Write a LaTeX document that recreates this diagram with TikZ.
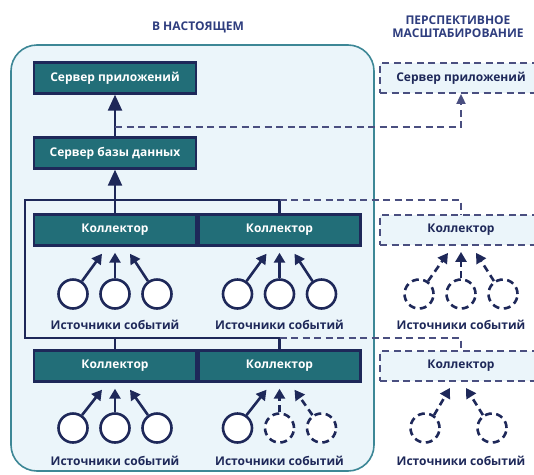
\documentclass[tikz,border=0pt]{standalone}
\usepackage{fontspec}
\setmainfont{Open Sans}
\usetikzlibrary{positioning, arrows.meta}
\definecolor{dsteal}{HTML}{226E78}
\definecolor{dsnavy}{HTML}{1E2859}
\definecolor{dsback}{HTML}{EBF5FA}
\definecolor{dsframe}{HTML}{3D8796}
\definecolor{dsdash}{HTML}{4A4F80}
\definecolor{dstitle}{HTML}{2E3D7E}

\begin{document}
\begin{tikzpicture}[x=1pt, y=-1pt, font=\bfseries\fontsize{12}{14}\selectfont,
    srvbox/.style={draw=dsnavy, fill=dsteal, line width=2.4pt, text=white,
                   minimum width=162pt, minimum height=31pt, inner sep=0pt},
    futbox/.style={draw=dsdash, fill=dsback, line width=1.8pt, dashline, text=dsnavy,
                   minimum width=162pt, minimum height=30pt, inner sep=0pt},
    solidline/.style={solid},
    dashline/.style={dash pattern=on 7pt off 4.5pt},
    evt/.style={circle, draw=dsnavy, fill=white, line width=2.6pt,
                minimum size=29pt, inner sep=0pt, #1},
    flow/.style={draw=dsnavy, line width=2.6pt, -{Triangle[length=10pt, width=11pt]}, #1},
    bus/.style={draw=dsnavy, line width=2.4pt},
    mainflow/.style={bus, -{Triangle[length=16pt, width=14pt]}},
    futline/.style={draw=dsdash, line width=1.8pt, dashline},
    srclabel/.style={text=dsnavy},
    title/.style={text=dstitle, align=center}]

  \clip (0,0) rectangle (534,474);

  % frame of the current setup
  \draw[draw=dsframe, fill=dsback, line width=1.6pt, rounded corners=26pt]
        (11,45) rectangle (374,471);

  \node[title] (now) at (198,27) {В НАСТОЯЩЕМ};
  \node[title] (later) at (458,27) {ПЕРСПЕКТИВНОЕ\\[-1pt]МАСШТАБИРОВАНИЕ};

  \node[srvbox] (app) at (115,78) {Сервер приложений};
  \node[srvbox] (db) at (115,153) {Сервер базы данных};
  \node[srvbox] (colA) at (115,230) {Коллектор};
  \node[srvbox] (colB) at (279.5,230) {Коллектор};
  \node[srvbox] (colC) at (115,366) {Коллектор};
  \node[srvbox] (colD) at (279.5,366) {Коллектор};

  \node[futbox] (appX) at (461,78) {Сервер приложений};
  \node[futbox] (colX) at (461,230) {Коллектор};
  \node[futbox] (colY) at (461,366) {Коллектор};

  \coordinate (busT) at (25,200);
  \coordinate (busB) at (25,338);
  \coordinate (tap) at (115,127);

  \draw[bus] (colB.north) |- (busT) -- (busB) -| (colD.north);
  \draw[bus] (busB -| colC.north) -- (colC.north);
  \draw[mainflow] (colA.north) -- (db.south);
  \draw[mainflow] (db.north) -- (app.south);

  \draw[futline] (colB.north |- busT) -| (colX.north);
  \draw[futline] (colD.north |- busB) -| (colY.north);
  \draw[futline, -{Triangle[length=10pt, width=9pt]}] (tap) -| (appX.south);

  % event sources under each collector
  \foreach \g/\r/\c/\p/\q/\s in {115/294/colA/solidline/solidline/solidline,
      279.5/294/colB/solidline/solidline/solidline,
      461/294/colX/dashline/dashline/dashline,
      115/428/colC/solidline/solidline/solidline,
      279.5/428/colD/solidline/dashline/dashline}{
    \node[evt=\p] (\c-l) at (\g-42,\r) {};
    \node[evt=\q] (\c-m) at (\g,\r) {};
    \node[evt=\s] (\c-r) at (\g+42,\r) {};
    \draw[flow=\p] (\c-l.55) -- ([xshift=-13pt, yshift=-7pt]\c.south);
    \draw[flow=\q] (\c-m.north) -- ([yshift=-6pt]\c.south);
    \draw[flow=\s] (\c-r.125) -- ([xshift=15pt, yshift=-7pt]\c.south);
  }
  \node[evt=dashline] (colY-l) at (425,428) {};
  \node[evt=dashline] (colY-r) at (492,428) {};
  \draw[flow=dashline] (colY-l.55) -- ([xshift=-11pt, yshift=-6pt]colY.south);
  \draw[flow=dashline] (colY-r.125) -- ([xshift=5pt, yshift=-6pt]colY.south);

  \node[srclabel] (lblA) at (115,325) {Источники событий};
  \node[srclabel] (lblB) at (279.5,325) {Источники событий};
  \node[srclabel] (lblX) at (461,325) {Источники событий};
  \node[srclabel] (lblC) at (115,461) {Источники событий};
  \node[srclabel] (lblD) at (279.5,461) {Источники событий};
  \node[srclabel] (lblY) at (461,461) {Источники событий};
\end{tikzpicture}
\end{document}
